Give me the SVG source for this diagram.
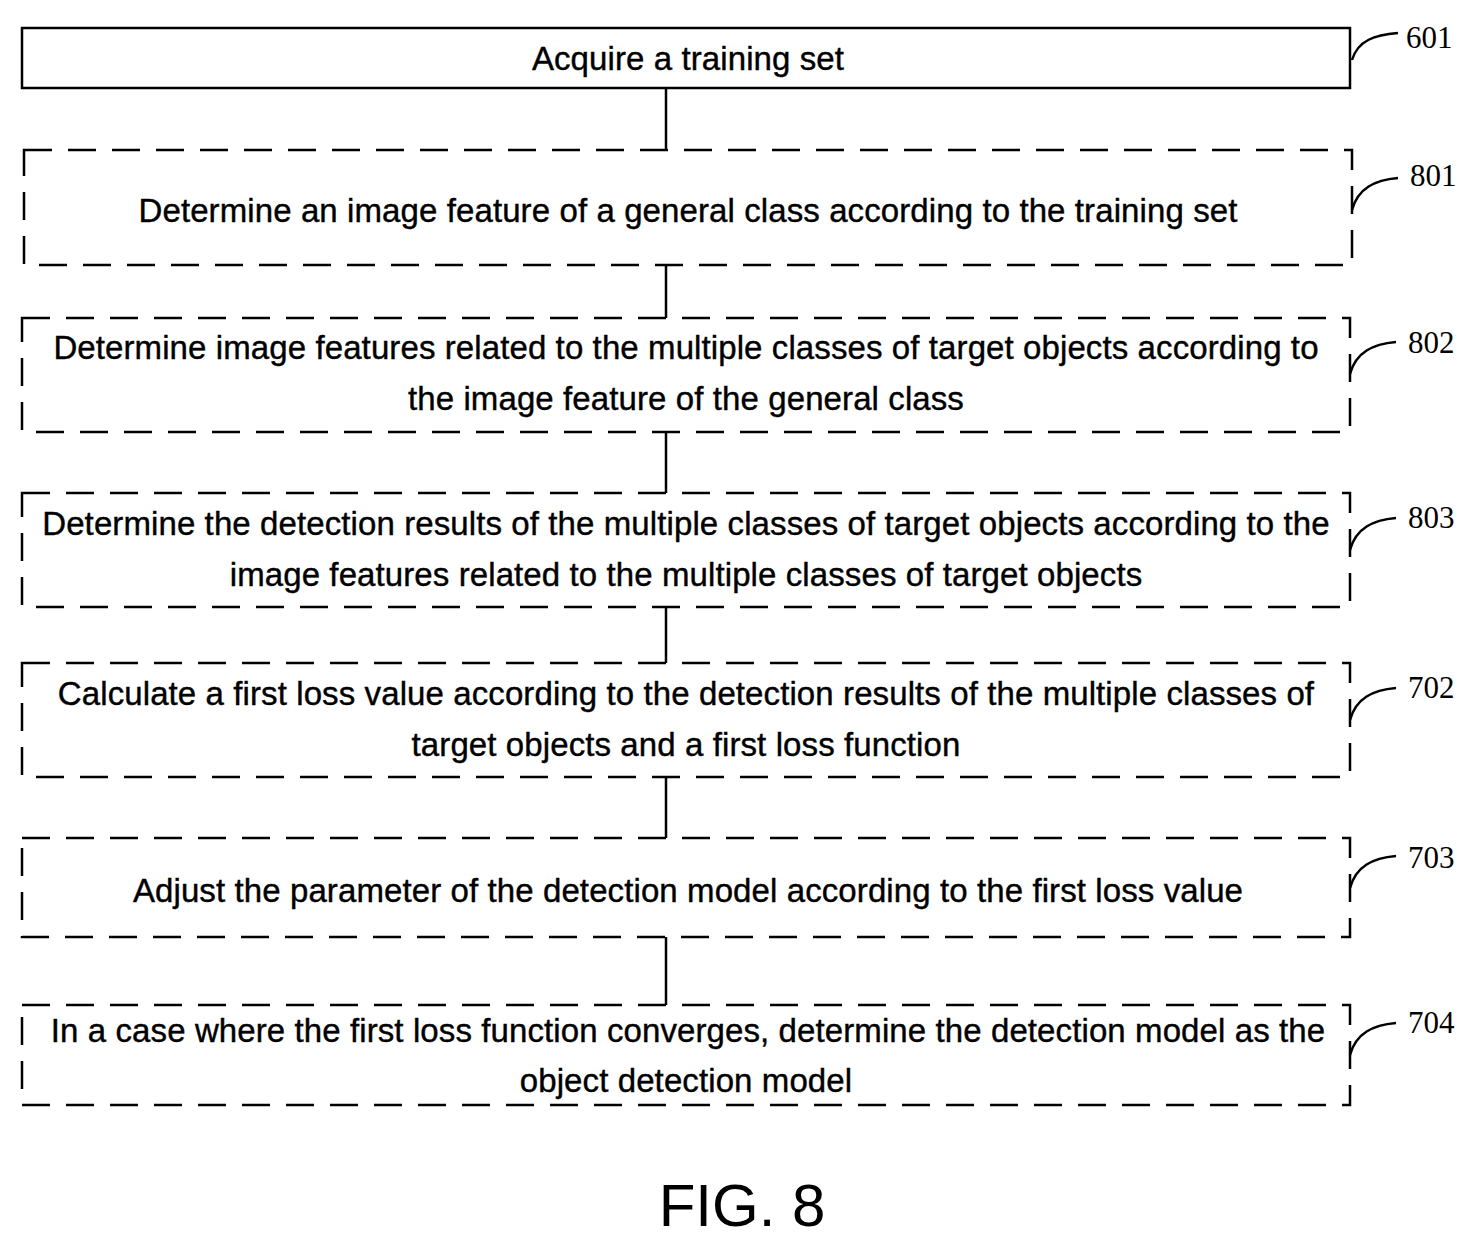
<svg xmlns="http://www.w3.org/2000/svg" width="1484" height="1248" viewBox="0 0 1484 1248">
<style>
.b{fill:none;stroke:#000;stroke-width:2.5}
.d{stroke-dasharray:28 16}
.t{font-family:"Liberation Sans",Arial,sans-serif;font-size:33px;letter-spacing:0.1px;text-anchor:middle;stroke:#000;stroke-width:0.4}
.n{font-family:"Liberation Serif","Times New Roman",serif;font-size:31px}
.l{fill:none;stroke:#000;stroke-width:2.5}
</style>
<rect width="1484" height="1248" fill="#fff"/>
<g id="connectors" class="l">
<line x1="666" y1="88" x2="666" y2="150"/>
<line x1="666" y1="265" x2="666" y2="318"/>
<line x1="666" y1="432" x2="666" y2="493"/>
<line x1="666" y1="607" x2="666" y2="663"/>
<line x1="666" y1="777" x2="666" y2="838"/>
<line x1="666" y1="937" x2="666" y2="1005"/>
</g>
<g id="n601"><rect class="b" x="22" y="28" width="1328" height="60"/><text class="t" x="688" y="70">Acquire a training set</text>
<path class="l" d="M1352 60 C1358 40,1375 35,1398 33"/><text class="n" x="1406" y="48">601</text></g>
<g id="n801"><rect class="b d" x="24" y="150" width="1328" height="115"/><text class="t" x="688" y="222">Determine an image feature of a general class according to the training set</text>
<path class="l" d="M1352 210 C1358 188,1375 180,1398 178"/><text class="n" x="1410" y="186">801</text></g>
<g id="n802"><rect class="b d" x="22" y="318" width="1328" height="114"/><text class="t" x="686" y="359">Determine image features related to the multiple classes of target objects according to</text><text class="t" x="686" y="410">the image feature of the general class</text>
<path class="l" d="M1350 374 C1356 352,1373 344,1396 342"/><text class="n" x="1408" y="353">802</text></g>
<g id="n803"><rect class="b d" x="22" y="493" width="1328" height="114"/><text class="t" x="686" y="535">Determine the detection results of the multiple classes of target objects according to the</text><text class="t" x="686" y="586">image features related to the multiple classes of target objects</text>
<path class="l" d="M1350 550 C1356 528,1373 520,1396 518"/><text class="n" x="1408" y="528">803</text></g>
<g id="n702"><rect class="b d" x="22" y="663" width="1328" height="114"/><text class="t" x="686" y="705">Calculate a first loss value according to the detection results of the multiple classes of</text><text class="t" x="686" y="756">target objects and a first loss function</text>
<path class="l" d="M1350 720 C1356 698,1373 690,1396 688"/><text class="n" x="1408" y="698">702</text></g>
<g id="n703"><rect class="b d" x="22" y="838" width="1328" height="99"/><text class="t" x="688" y="902">Adjust the parameter of the detection model according to the first loss value</text>
<path class="l" d="M1350 888 C1356 866,1373 858,1396 856"/><text class="n" x="1408" y="868">703</text></g>
<g id="n704"><rect class="b d" x="22" y="1005" width="1328" height="100"/><text class="t" x="688" y="1042">In a case where the first loss function converges, determine the detection model as the</text><text class="t" x="686" y="1092">object detection model</text>
<path class="l" d="M1350 1055 C1356 1033,1373 1025,1396 1023"/><text class="n" x="1408" y="1033">704</text></g>
<text x="742" y="1226" style="font-family:'Liberation Sans',Arial,sans-serif;font-size:60px;text-anchor:middle">FIG. 8</text>
</svg>
